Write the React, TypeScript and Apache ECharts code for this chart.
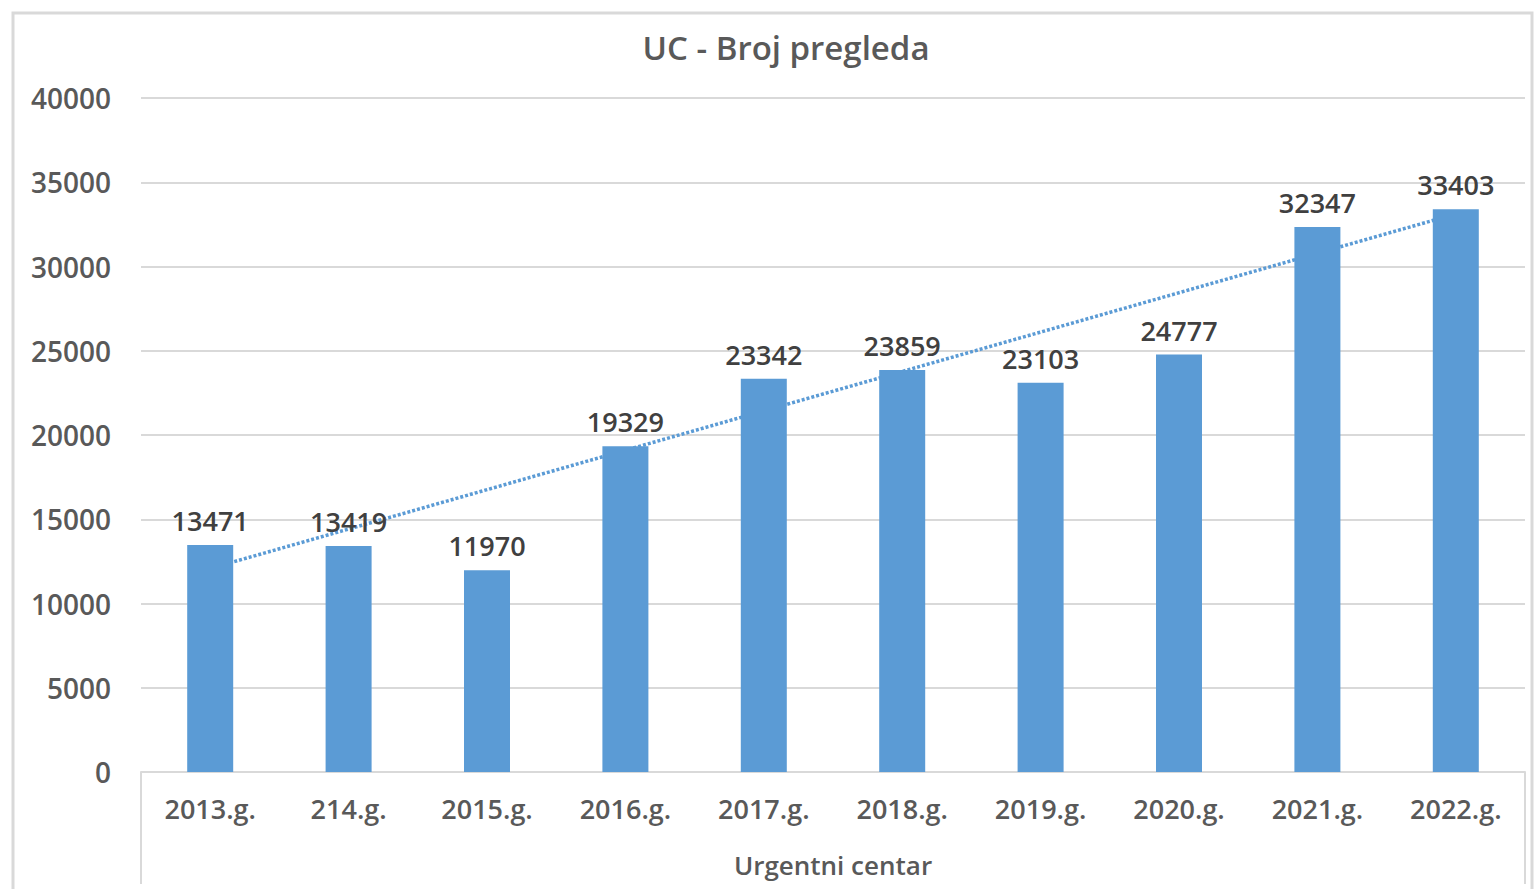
import React, { useEffect, useRef } from "react";
import * as echarts from "echarts";

const titleText = "UC - Broj pregleda";
const groupLabel = "Urgentni centar";
const categories = ["2013.g.", "214.g.", "2015.g.", "2016.g.", "2017.g.", "2018.g.", "2019.g.", "2020.g.", "2021.g.", "2022.g."];
const values = [13471, 13419, 11970, 19329, 23342, 23859, 23103, 24777, 32347, 33403];
// dotted trend line: value at first and last category
const trendValues = [12080, null, null, null, null, null, null, null, null, 33120];
const yMin = 0;
const yMax = 40000;
const yStep = 5000;

const FONT = "'Open Sans', sans-serif";
const TEXT = "#595959";
const GRID_C = "#D9D9D9";
const BAR_C = "#5B9BD5";

export default function App() {
  const ref = useRef<HTMLDivElement>(null);
  useEffect(() => {
    document.body.style.margin = "0";
    if (!ref.current) return;
    const chart = echarts.init(ref.current, null, { renderer: "svg" });
    const gridLeft = 141;
    const gridRight = 10;
    const gridTop = 98;
    const gridBottom = 117;
    const W = 1535;
    const H = 889;
    const axisY = H - gridBottom;
    chart.setOption({
      animation: false,
      backgroundColor: "#ffffff",
      title: {
        text: titleText,
        left: 781,
        top: 26,
        textAlign: "center",
        textStyle: { fontFamily: FONT, fontSize: 33, fontWeight: 600, color: TEXT },
      },
      grid: { left: gridLeft, right: gridRight, top: gridTop, bottom: gridBottom, containLabel: false },
      xAxis: {
        type: "category",
        data: categories,
        name: groupLabel,
        nameLocation: "middle",
        nameGap: 80,
        nameTextStyle: { fontFamily: FONT, fontSize: 26, fontWeight: 600, color: TEXT },
        axisLine: { show: true, lineStyle: { color: GRID_C, width: 2 } },
        axisTick: { show: false },
        axisLabel: { fontFamily: FONT, fontSize: 27, fontWeight: 600, color: TEXT, margin: 23 },
      },
      yAxis: {
        type: "value",
        min: yMin,
        max: yMax,
        interval: yStep,
        axisLine: { show: false },
        axisTick: { show: false },
        splitLine: { lineStyle: { color: GRID_C, width: 2 } },
        axisLabel: {
          fontFamily: FONT,
          fontSize: 28,
          fontWeight: 600,
          color: TEXT,
          margin: 30,
          formatter: (v: number) => String(v),
        },
      },
      series: [
        {
          type: "line",
          data: trendValues,
          connectNulls: true,
          symbol: "none",
          z: 1,
          lineStyle: { color: BAR_C, width: 3.5, type: [3, 2], cap: "butt" },
          silent: true,
        },
        {
          type: "bar",
          data: values,
          barWidth: 46,
          z: 2,
          itemStyle: { color: BAR_C },
          label: {
            show: true,
            position: "top",
            distance: 11,
            fontFamily: FONT,
            fontSize: 27,
            fontWeight: 600,
            color: "#404040",
          },
        },
      ],
      graphic: [
        {
          type: "rect",
          shape: { x: 13, y: 13, width: 1519, height: 900 },
          style: { fill: "none", stroke: GRID_C, lineWidth: 3 },
          silent: true,
        },
        {
          type: "line",
          shape: { x1: gridLeft, y1: axisY, x2: gridLeft, y2: 884 },
          style: { stroke: GRID_C, lineWidth: 2 },
          silent: true,
        },
        {
          type: "line",
          shape: { x1: W - gridRight, y1: axisY, x2: W - gridRight, y2: 884 },
          style: { stroke: GRID_C, lineWidth: 2 },
          silent: true,
        },
      ],
    });
    return () => chart.dispose();
  }, []);
  return <div ref={ref} style={{ width: 1535, height: 889 }} />;
}
